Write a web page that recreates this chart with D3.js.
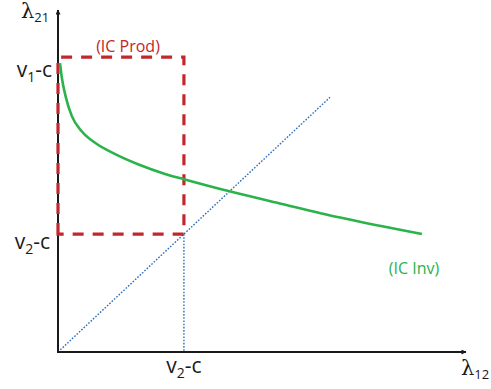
<!DOCTYPE html>
<html>
<head>
<meta charset="utf-8">
<script src="https://cdn.jsdelivr.net/npm/d3@7"></script>
<style>
  html, body { margin: 0; padding: 0; background: #fff; }
  svg { display: block; }
  .lbl { font-family: "Open Sans", sans-serif; fill: #1a1a1a; }
  .lam { font-family: "DejaVu Serif", serif; fill: #1a1a1a; }
</style>
</head>
<body>
<svg id="chart" width="491" height="389"></svg>
<script>
// Incentive-compatibility curve (IC Inv): λ12 vs λ21, in units of (v2 - c)
const icInvX = [0.016, 0.03, 0.06, 0.11, 0.19, 0.30, 0.45, 0.64, 0.85, 1.00, 1.37, 1.76, 2.24, 2.89];
const icInvY = [2.45, 2.33, 2.17, 2.00, 1.87, 1.77, 1.68, 1.59, 1.51, 1.465, 1.36, 1.26, 1.14, 1.00];

// Key levels on the axes
const v1c = 2.5;   // v1 - c
const v2c = 1.0;   // v2 - c
const diagEnd = 2.16;  // end of the 45° reference line
const axisMax = { x: 3.24, y: 2.9 };

const svg = d3.select("#chart");

const x = d3.scaleLinear().domain([0, axisMax.x]).range([58, 466]);
const y = d3.scaleLinear().domain([0, axisMax.y]).range([352, 10]);

const red = "#c1272d", green = "#2bb34b", blue = "#2f6db5";

// arrow markers
const defs = svg.append("defs");
defs.append("marker")
  .attr("id", "arrow")
  .attr("viewBox", "0 0 10 10")
  .attr("refX", 9).attr("refY", 5)
  .attr("markerWidth", 6).attr("markerHeight", 5)
  .attr("markerUnits", "userSpaceOnUse")
  .attr("orient", "auto")
  .append("path").attr("d", "M0,0 L10,5 L0,10 Z").attr("fill", "#1a1a1a");

// 45° line λ21 = λ12
svg.append("line")
  .attr("x1", x(0)).attr("y1", y(0))
  .attr("x2", x(diagEnd)).attr("y2", y(diagEnd))
  .attr("stroke", blue).attr("stroke-width", 1.4)
  .attr("stroke-dasharray", "1.6,1.6");

// vertical guide at v2 - c
svg.append("line")
  .attr("x1", x(v2c)).attr("y1", y(v2c))
  .attr("x2", x(v2c)).attr("y2", y(0))
  .attr("stroke", blue).attr("stroke-width", 1.4)
  .attr("stroke-dasharray", "1.6,1.6");

// axes
svg.append("line")
  .attr("x1", x(0)).attr("y1", y(0))
  .attr("x2", x(0)).attr("y2", y(axisMax.y))
  .attr("stroke", "#1a1a1a").attr("stroke-width", 2)
  .attr("marker-end", "url(#arrow)");
svg.append("line")
  .attr("x1", x(0) - 1).attr("y1", y(0))
  .attr("x2", x(axisMax.x)).attr("y2", y(0))
  .attr("stroke", "#1a1a1a").attr("stroke-width", 2)
  .attr("marker-end", "url(#arrow)");

// IC Prod region (dashed rectangle)
const rectPath = d3.path();
rectPath.moveTo(x(0), y(v2c));
rectPath.lineTo(x(0), y(v1c));
rectPath.lineTo(x(v2c), y(v1c));
rectPath.lineTo(x(v2c), y(v2c));
rectPath.closePath();
svg.append("path")
  .attr("d", rectPath.toString())
  .attr("fill", "none")
  .attr("stroke", red).attr("stroke-width", 3.2)
  .attr("stroke-dasharray", "11,9");

// IC Inv curve
const icInv = icInvX.map((d, i) => [d, icInvY[i]]);
svg.append("path")
  .datum(icInv)
  .attr("d", d3.line().x(d => x(d[0])).y(d => y(d[1])).curve(d3.curveMonotoneX))
  .attr("fill", "none")
  .attr("stroke", green).attr("stroke-width", 2.6);

// curve labels
svg.append("text").attr("class", "lbl")
  .attr("x", 128).attr("y", 52)
  .attr("text-anchor", "middle")
  .attr("font-size", 16)
  .style("fill", red)
  .text("(IC Prod)");
svg.append("text").attr("class", "lbl")
  .attr("x", 414).attr("y", 274)
  .attr("text-anchor", "middle")
  .attr("font-size", 16)
  .style("fill", green)
  .text("(IC Inv)");

// axis value labels
function vLabel(px, py, sub, anchor) {
  const t = svg.append("text").attr("class", "lbl")
    .attr("x", px).attr("y", py)
    .attr("font-size", 21)
    .attr("text-anchor", anchor);
  t.append("tspan").text("v");
  t.append("tspan").attr("font-size", 14).attr("dy", 5).text(sub);
  t.append("tspan").attr("dy", -5).text("-c");
}
vLabel(x(0) - 6, y(v1c) + 20, "1", "end");
vLabel(x(0) - 8, y(v2c) + 15, "2", "end");
vLabel(x(v2c), y(0) + 21, "2", "middle");

// axis titles
function lamLabel(px, py, sub) {
  const t = svg.append("text").attr("class", "lam")
    .attr("x", px).attr("y", py)
    .attr("font-size", 21);
  t.append("tspan").text("λ");
  t.append("tspan").attr("class", "lbl").attr("font-size", 13).attr("dy", 4).text(sub);
}
lamLabel(21, 18, "21");
lamLabel(461, 375, "12");
</script>
</body>
</html>
